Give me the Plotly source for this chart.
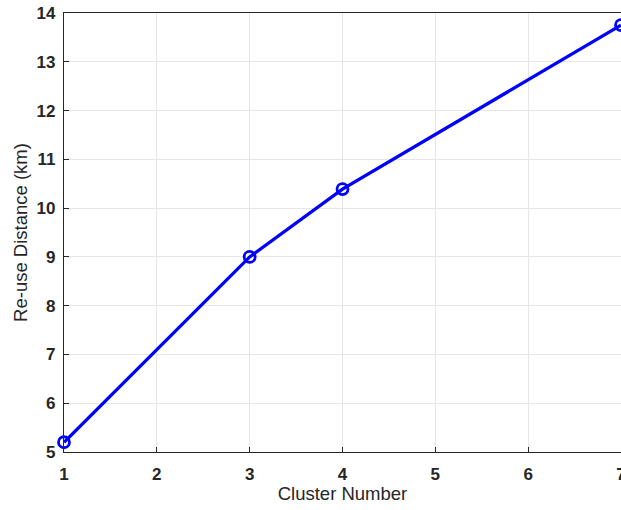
import plotly.graph_objects as go

cluster_number = [1, 3, 4, 7]
reuse_distance_km = [5.2, 9.0, 10.39, 13.75]
x_ticks = [1, 2, 3, 4, 5, 6, 7]
y_ticks = [5, 6, 7, 8, 9, 10, 11, 12, 13, 14]

fig = go.Figure()
fig.add_trace(go.Scatter(
    x=cluster_number, y=reuse_distance_km,
    mode="lines+markers",
    line=dict(color="#0000FF", width=3.3),
    marker=dict(symbol="circle-open", size=11, color="#0000FF", line=dict(width=2.8, color="#0000FF")),
    cliponaxis=False,
    showlegend=False,
))

axis_common = dict(
    showline=True, linecolor="#262626", linewidth=1.2, mirror=True,
    ticks="inside", ticklen=5, tickcolor="#262626", tickwidth=1,
    showgrid=True, gridcolor="#E6E6E6", gridwidth=1,
    zeroline=False, automargin=False, ticklabeloverflow="allow",
    tickfont=dict(family="Liberation Sans, Arial, sans-serif", size=17, color="#262626", weight="bold"),
)

fig.update_layout(
    width=621, height=510,
    margin=dict(l=64, r=0, t=13, b=58),
    plot_bgcolor="white", paper_bgcolor="white",
    font=dict(family="Liberation Sans, Arial, sans-serif", color="#262626"),
    xaxis=dict(range=[1, 7], tickvals=x_ticks,
               title=dict(text="Cluster Number", font=dict(size=18.5, color="#262626"), standoff=1),
               ticklabelstandoff=6, **axis_common),
    yaxis=dict(range=[5, 14], tickvals=y_ticks,
               title=dict(text="Re-use Distance (km)", font=dict(size=18.5, color="#262626"), standoff=4),
               ticklabelstandoff=4, **axis_common),
)

fig.write_html("out.html", config={"displayModeBar": False},
               post_script="document.body.style.margin='0';document.body.style.padding='0';")
